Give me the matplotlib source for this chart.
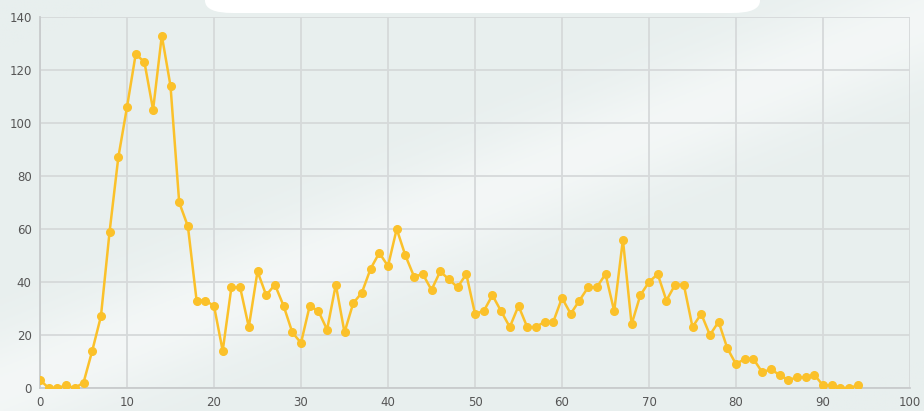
import numpy as np
import matplotlib.pyplot as plt
from matplotlib.patches import FancyBboxPatch

# values, one per x step (0..94)
x_vals = list(range(95))
y_vals = [3, 0, 0, 1, 0, 2, 14, 27, 59, 87,
          106, 126, 123, 105, 133, 114, 70, 61, 33, 33,
          31, 14, 38, 38, 23, 44, 35, 39, 31, 21,
          17, 31, 29, 22, 39, 21, 32, 36, 45, 51,
          46, 60, 50, 42, 43, 37, 44, 41, 38, 43,
          28, 29, 35, 29, 23, 31, 23, 23, 25, 25,
          34, 28, 33, 38, 38, 43, 29, 56, 24, 35,
          40, 43, 33, 39, 39, 23, 28, 20, 25, 15,
          9, 11, 11, 6, 7, 5, 3, 4, 4, 5,
          1, 1, 0, 0, 1]
x_ticks = [0, 10, 20, 30, 40, 50, 60, 70, 80, 90, 100]
y_ticks = [0, 20, 40, 60, 80, 100, 120, 140]

bg = '#e8efee'
line_color = '#fbc12a'

fig = plt.figure(figsize=(9.24, 4.11), dpi=100, facecolor=bg)

# soft light streak in the background
grad = fig.add_axes([0, 0, 1, 1], zorder=-10)
gx, gy = np.meshgrid(np.linspace(0, 1, 300), np.linspace(0, 1, 150))
band = np.exp(-((gx * 0.9 - gy + 0.05) ** 2) / 0.02) * 0.5
base = np.ones((150, 300, 3)) * np.array([0xe8, 0xef, 0xee]) / 255
img = base + (1 - base) * band[..., None]
grad.imshow(img, extent=[0, 1, 0, 1], aspect='auto', origin='lower')
grad.axis('off')

# white rounded box peeking from the top
box = FancyBboxPatch((205 / 924, 1 - 13 / 411), 555 / 924, 0.1,
                     boxstyle='round,pad=0,rounding_size=0.03',
                     transform=fig.transFigure, facecolor='white',
                     edgecolor='none', zorder=-5)
fig.patches.append(box)

ax = fig.add_axes([40 / 924, 23 / 411, 870 / 924, 371 / 411])
ax.set_facecolor('none')

ax.plot(x_vals, y_vals, color=line_color, linewidth=1.8,
        marker='o', markersize=5.5, zorder=3)

ax.set_xlim(0, 100)
ax.set_ylim(0, 140)
ax.set_xticks(x_ticks)
ax.set_yticks(y_ticks)
ax.grid(True, color='#d6d9da', linewidth=1.3)
ax.set_axisbelow(True)
ax.tick_params(length=0, labelsize=8.5, colors='#555555', pad=6)

for side in ['top', 'right']:
    ax.spines[side].set_visible(False)
for side in ['left', 'bottom']:
    ax.spines[side].set_color('#c8cbcc')
    ax.spines[side].set_linewidth(1.3)

plt.savefig('out.png', dpi=100, facecolor=bg)
